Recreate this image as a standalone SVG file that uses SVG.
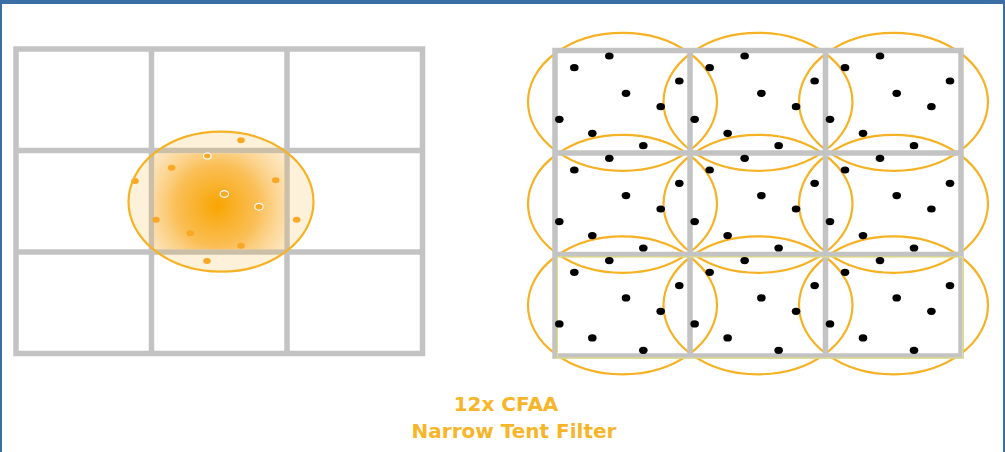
<svg xmlns="http://www.w3.org/2000/svg" width="1005" height="452" viewBox="0 0 1005 452">
<style>
.grid{fill:none;stroke:#c3c3c3;stroke-width:5.5}
.ring{fill:none;stroke:#f6b225;stroke-width:2.2}
.bdot{fill:#000}
.odot{fill:#f9a826}
.ow{fill:#f9a826;stroke:#ffffff;stroke-width:1.2}
.lbl{font-family:"DejaVu Sans",Verdana,sans-serif;font-weight:bold;font-size:20px;fill:#f7b52a;text-anchor:middle}
</style>
<defs>
<radialGradient id="tent" gradientUnits="userSpaceOnUse" cx="217" cy="206" r="82">
<stop offset="0" stop-color="#f9a500" stop-opacity="1"/>
<stop offset="0.5" stop-color="#f9b030" stop-opacity="0.78"/>
<stop offset="1" stop-color="#fbd595" stop-opacity="0.35"/>
</radialGradient>
<g id="pat">
<ellipse cx="609.3" cy="56" rx="4.3" ry="3.6"/>
<ellipse cx="574.3" cy="67.7" rx="4.3" ry="3.6"/>
<ellipse cx="679.3" cy="81" rx="4.3" ry="3.6"/>
<ellipse cx="626" cy="93.3" rx="4.3" ry="3.6"/>
<ellipse cx="660.7" cy="106.7" rx="4.3" ry="3.6"/>
<ellipse cx="559.3" cy="119.3" rx="4.3" ry="3.6"/>
<ellipse cx="592.3" cy="133.3" rx="4.3" ry="3.6"/>
<ellipse cx="643.3" cy="145.7" rx="4.3" ry="3.6"/>
</g>
</defs>
<rect x="0" y="0" width="1005" height="452" fill="#ffffff"/>
<rect x="0" y="0" width="1005" height="4" fill="#3b6ea5"/>
<rect x="0" y="0" width="2" height="452" fill="#3b6ea5"/>
<rect x="1003" y="0" width="2" height="452" fill="#3b6ea5"/>

<g id="left-grid">
<rect class="grid" x="16" y="49" width="406.5" height="304.5"/>
<line class="grid" x1="151.5" y1="49" x2="151.5" y2="353.5"/>
<line class="grid" x1="287" y1="49" x2="287" y2="353.5"/>
<line class="grid" x1="16" y1="150.5" x2="422.5" y2="150.5"/>
<line class="grid" x1="16" y1="252" x2="422.5" y2="252"/>
</g>

<g id="tent-filter">
<ellipse cx="221" cy="201.7" rx="92.5" ry="70" fill="#f9b233" fill-opacity="0.18"/>
<rect x="154.3" y="153.3" width="130" height="96" fill="url(#tent)"/>
<ellipse class="odot" cx="241" cy="140.3" rx="3.8" ry="3"/>
<ellipse class="ow" cx="207.3" cy="156" rx="3.8" ry="3"/>
<ellipse class="odot" cx="171.7" cy="167.7" rx="3.8" ry="3"/>
<ellipse class="odot" cx="135" cy="181" rx="3.8" ry="3"/>
<ellipse class="odot" cx="275.7" cy="180.3" rx="3.8" ry="3"/>
<ellipse class="ow" cx="224.3" cy="194" rx="4.2" ry="3.4"/>
<ellipse class="ow" cx="259" cy="206.7" rx="4.2" ry="3.4"/>
<ellipse class="odot" cx="156" cy="219.7" rx="3.8" ry="3"/>
<ellipse class="odot" cx="296.7" cy="219.7" rx="3.8" ry="3"/>
<ellipse class="odot" cx="190.3" cy="233.3" rx="3.8" ry="3"/>
<ellipse class="odot" cx="241" cy="245.7" rx="3.8" ry="3"/>
<ellipse class="odot" cx="207" cy="261" rx="3.8" ry="3"/>
<ellipse class="ring" cx="221" cy="201.7" rx="92.5" ry="70"/>
</g>

<g id="right-rings">
<ellipse class="ring" cx="622.5" cy="101.8" rx="94.5" ry="69"/>
<ellipse class="ring" cx="758" cy="101.8" rx="94.5" ry="69"/>
<ellipse class="ring" cx="893.5" cy="101.8" rx="94.5" ry="69"/>
<ellipse class="ring" cx="622.5" cy="203.8" rx="94.5" ry="69"/>
<ellipse class="ring" cx="758" cy="203.8" rx="94.5" ry="69"/>
<ellipse class="ring" cx="893.5" cy="203.8" rx="94.5" ry="69"/>
<ellipse class="ring" cx="622.5" cy="305.3" rx="94.5" ry="69"/>
<ellipse class="ring" cx="758" cy="305.3" rx="94.5" ry="69"/>
<ellipse class="ring" cx="893.5" cy="305.3" rx="94.5" ry="69"/>
</g>

<g id="right-grid">
<rect class="grid" x="555" y="50.5" width="406" height="305.5"/>
<line class="grid" x1="690" y1="50.5" x2="690" y2="356"/>
<line class="grid" x1="825.5" y1="50.5" x2="825.5" y2="356"/>
<line class="grid" x1="555" y1="153" x2="961" y2="153"/>
<line class="grid" x1="555" y1="254.5" x2="961" y2="254.5"/>
<rect x="557.5" y="257" width="405" height="101" fill="none" stroke="#e6e070" stroke-width="1"/>
</g>

<g id="samples" class="bdot">
<use href="#pat"/>
<use href="#pat" transform="translate(135.35,0)"/>
<use href="#pat" transform="translate(270.7,0)"/>
<use href="#pat" transform="translate(0,102.3)"/>
<use href="#pat" transform="translate(135.35,102.3)"/>
<use href="#pat" transform="translate(270.7,102.3)"/>
<use href="#pat" transform="translate(0,204.6)"/>
<use href="#pat" transform="translate(135.35,204.6)"/>
<use href="#pat" transform="translate(270.7,204.6)"/>
</g>

<g id="caption">
<text class="lbl" x="506" y="411">12x CFAA</text>
<text class="lbl" x="514" y="438">Narrow Tent Filter</text>
</g>
</svg>
